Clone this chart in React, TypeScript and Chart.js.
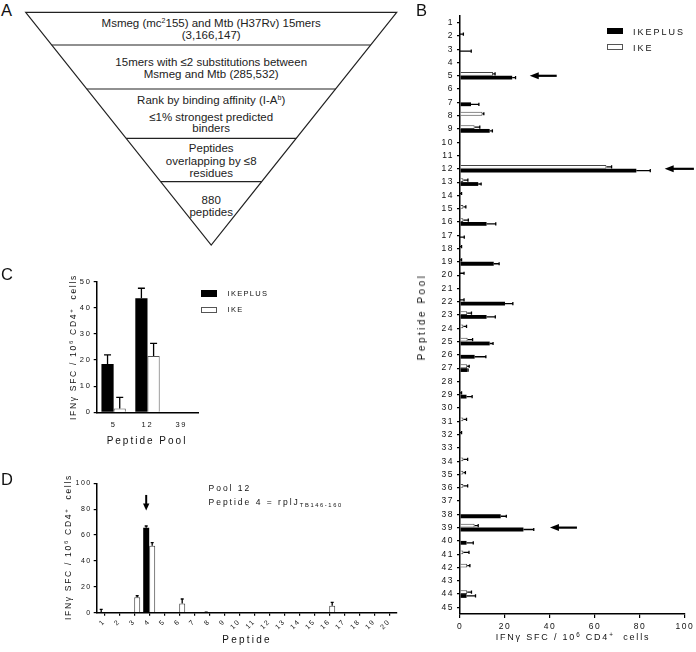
import React, { useEffect, useRef } from 'react';
import { Chart, registerables } from 'chart.js';
Chart.register(...registerables);

const FONT = '"Liberation Sans", Arial, Helvetica, sans-serif';

// ---------- Panel B data ----------
const poolLabelsB = ['1','2','3','4','5','6','7','8','9','10','11','12','13','14','15','16','17','18','19','20','21','22','23','24','25','26','27','28','29','30','31','32','33','34','35','36','37','38','39','40','41','42','43','44','45'];
const ikeplusB = [0,0,0,0,23.2,0,4.9,0,13.2,0,0,78.4,8.1,0,0,11.8,0,0,15,0,0,20,11.8,0,13.2,6.5,3.3,0,2.9,0,0,0,0,0,0,0,0,18.1,28.2,2.9,0,0,0,2.9,0];
const ikeplusBErr = [0,0,5,0,1.5,0,3.5,0,1.2,0,0,6.2,1.3,0,0,4.1,1.9,0,2.4,0,0,3.5,3.9,0,1.5,5,0.3,0,2.5,0,0,0,0,0,0,0,0,2.5,4.6,3,0,0,0,4,0];
const ikeB = [0,0,0,0,14.7,0,0,10,6.5,0,0,65.1,1.5,0,1.5,1.5,0,0,0,0,0,0,3.2,1.5,3.4,0,3.2,0,0,0,1.5,0,0,1.5,1.5,1.5,0,0,6.5,0,1.5,3.2,0,3.2,0];
const ikeBErr = [0,1.5,0,0,0.9,0,0,0.6,2.3,0,0,2.3,2,0.7,1.1,2.2,0,0.7,0.7,1.8,0,1.8,1.9,1.4,2.2,0,0.9,0,0.7,0,1.4,0.7,0,1.9,0.9,1.9,0,0,1.6,0,2.5,1.2,0,1.9,0];
const arrowPoolsB = ['5', '12', '39'];
const arrowTipB = [31, 91, 40];
const arrowTailB = [43, 104, 52];
const xTicksB = [0, 20, 40, 60, 80, 100];

// ---------- Panel C data ----------
const poolLabelsC = ['5', '12', '39'];
const ikeplusC = [18.5, 43.7, 0];
const ikeplusCErr = [3.5, 3.8, 0];
const ikeC = [1.5, 21.6, 0];
const ikeCErr = [4.2, 4.8, 0];

// ---------- Panel D data ----------
const peptideLabelsD = ['1','2','3','4','5','6','7','8','9','10','11','12','13','14','15','16','17','18','19','20'];
const ikeplusD = [0,0,0,65.7,0,0,0,0,0,0,0,0,0,0,0,0,0,0,0,0];
const ikeplusDErr = [2.5,0,0,1.3,0,0,0,0.5,0,0,0,0,0,0,0,0,0,0,0,0];
const ikeD = [0,0,11.9,51.8,0,7.2,0,0,0,0,0,0,0,0,0,5.4,0,0,0,0];
const ikeDErr = [0,0,1.2,2.3,0,3.4,0,0,0,0,0,0,0,0,0,2.6,0,0,0,0];
const arrowPeptideD = '4';
const arrowTopD = 91;
const arrowTipD = 79;

function drawArrow(ctx: CanvasRenderingContext2D, x0: number, y0: number, x1: number, y1: number, headLen: number, headHalf: number, width: number) {
  const dx = x1 - x0, dy = y1 - y0;
  const len = Math.hypot(dx, dy);
  const ux = dx / len, uy = dy / len;
  const bx = x1 - ux * headLen, by = y1 - uy * headLen;
  ctx.save();
  ctx.strokeStyle = '#000';
  ctx.fillStyle = '#000';
  ctx.lineWidth = width;
  ctx.beginPath();
  ctx.moveTo(x0, y0);
  ctx.lineTo(bx + ux, by + uy);
  ctx.stroke();
  ctx.beginPath();
  ctx.moveTo(x1, y1);
  ctx.lineTo(bx - uy * headHalf, by + ux * headHalf);
  ctx.lineTo(bx + uy * headHalf, by - ux * headHalf);
  ctx.closePath();
  ctx.fill();
  ctx.restore();
}

const extrasPlugin: any = {
  id: 'extras',
  beforeDraw(chart: any, _a: any, opts: any) {
    (chart.ctx as any).letterSpacing = (opts.spacing || 0) + 'px';
  },
  afterDatasetsDraw(chart: any, _a: any, opts: any) {
    const ctx = chart.ctx as CanvasRenderingContext2D;
    const horizontal = chart.options.indexAxis === 'y';
    const vScale = horizontal ? chart.scales.x : chart.scales.y;
    const cap = opts.cap || 1.5;
    ctx.save();
    ctx.strokeStyle = '#000';
    ctx.lineWidth = opts.errWidth || 1;
    chart.data.datasets.forEach((ds: any, di: number) => {
      const meta = chart.getDatasetMeta(di);
      (ds.errors || []).forEach((e: number, i: number) => {
        if (!e) return;
        const el: any = meta.data[i];
        const v = ds.data[i] as number;
        const p0 = vScale.getPixelForValue(v);
        const p1 = vScale.getPixelForValue(v + e);
        ctx.beginPath();
        if (horizontal) {
          const c = el.y;
          ctx.moveTo(p0, c); ctx.lineTo(p1, c);
          ctx.moveTo(p1, c - cap); ctx.lineTo(p1, c + cap);
        } else {
          const c = el.x;
          ctx.moveTo(c, p0); ctx.lineTo(c, p1);
          ctx.moveTo(c - cap, p1); ctx.lineTo(c + cap, p1);
        }
        ctx.stroke();
      });
    });
    ctx.restore();
  },
  afterDraw(chart: any, _a: any, opts: any) {
    const ctx = chart.ctx as CanvasRenderingContext2D;
    (opts.arrows || []).forEach((a: any) => {
      if (a.horizontal) {
        const y = chart.scales.y.getPixelForValue(a.index);
        drawArrow(ctx, chart.scales.x.getPixelForValue(a.from), y, chart.scales.x.getPixelForValue(a.to), y, 9, 3.5, 2.2);
      } else {
        const el: any = chart.getDatasetMeta(a.dataset).data[a.index];
        const x = el.x;
        drawArrow(ctx, x, chart.scales.y.getPixelForValue(a.from), x, chart.scales.y.getPixelForValue(a.to), 7, 3.2, 2);
      }
    });
  },
};

const axisBorder = { color: '#000', width: 1.5 };

function makeB(canvas: HTMLCanvasElement) {
  return new Chart(canvas, {
    type: 'bar',
    data: {
      labels: poolLabelsB,
      datasets: [
        { label: 'IKE', data: ikeB, errors: ikeBErr, backgroundColor: '#fff', borderColor: '#444', borderWidth: 1, borderSkipped: 'start', barThickness: 3.8, inflateAmount: 0 } as any,
        { label: 'IKEPLUS', data: ikeplusB, errors: ikeplusBErr, backgroundColor: '#000', borderWidth: 0, barThickness: 3.8, inflateAmount: 0 } as any,
      ],
    },
    options: {
      indexAxis: 'y',
      animation: false,
      responsive: false,
      devicePixelRatio: 1,
      layout: { padding: { top: 16, right: 10, left: 0, bottom: 0 } },
      plugins: {
        legend: { display: false },
        tooltip: { enabled: false },
        extras: {
          spacing: 1.5, cap: 1.6, errWidth: 1.3,
          arrows: arrowPoolsB.map((p, k) => ({ horizontal: true, index: poolLabelsB.indexOf(p), from: arrowTailB[k], to: arrowTipB[k] })),
        },
      } as any,
      scales: {
        x: {
          type: 'linear', min: 0, max: 100,
          afterBuildTicks: (s: any) => { s.ticks = xTicksB.map((v) => ({ value: v })); },
          ticks: { color: '#111', font: { family: FONT, size: 8.5 }, padding: 4 },
          grid: { drawOnChartArea: false, tickLength: 4, color: '#000', lineWidth: 1.2 },
          border: axisBorder,
          afterFit: (s: any) => { s.height = 38; },
        },
        y: {
          offset: true,
          ticks: { color: '#111', font: { family: FONT, size: 8.5 }, padding: 3, autoSkip: false },
          grid: { offset: false, drawOnChartArea: false, tickLength: 3, color: '#000', lineWidth: 1.2 },
          border: axisBorder,
          afterFit: (s: any) => { s.width = 60; },
        },
      },
    },
    plugins: [extrasPlugin],
  });
}

function makeC(canvas: HTMLCanvasElement) {
  return new Chart(canvas, {
    type: 'bar',
    data: {
      labels: poolLabelsC,
      datasets: [
        { label: 'IKEPLUS', data: ikeplusC, errors: ikeplusCErr, backgroundColor: '#000', borderWidth: 0, inflateAmount: 0 } as any,
        { label: 'IKE', data: ikeC, errors: ikeCErr, backgroundColor: '#fff', borderColor: '#555', borderWidth: 1, borderSkipped: 'start', inflateAmount: 0 } as any,
      ],
    },
    options: {
      animation: false,
      responsive: false,
      devicePixelRatio: 1,
      datasets: { bar: { categoryPercentage: 0.72, barPercentage: 1 } },
      layout: { padding: { top: 19.7, right: 11.7, left: 0, bottom: 0 } },
      plugins: {
        legend: { display: false },
        tooltip: { enabled: false },
        extras: { spacing: 1.8, cap: 3.5, errWidth: 1.3 },
      } as any,
      scales: {
        x: {
          offset: true,
          ticks: { color: '#111', font: { family: FONT, size: 7.5 }, padding: 8.5 },
          grid: { offset: false, drawOnChartArea: false, drawTicks: false, color: '#000' },
          border: axisBorder,
          afterFit: (s: any) => { s.height = 39.7; },
        },
        y: {
          min: 0, max: 50,
          ticks: { stepSize: 10, color: '#111', font: { family: FONT, size: 7.5 }, padding: 2 },
          grid: { drawOnChartArea: false, tickLength: 3, color: '#000', lineWidth: 1.2 },
          border: axisBorder,
          afterFit: (s: any) => { s.width = 96.7; },
        },
      },
    },
    plugins: [extrasPlugin],
  });
}

function makeD(canvas: HTMLCanvasElement) {
  return new Chart(canvas, {
    type: 'bar',
    data: {
      labels: peptideLabelsD,
      datasets: [
        { label: 'IKEPLUS', data: ikeplusD, errors: ikeplusDErr, backgroundColor: '#000', borderWidth: 0, inflateAmount: 0 } as any,
        { label: 'IKE', data: ikeD, errors: ikeDErr, backgroundColor: '#fff', borderColor: '#444', borderWidth: 1, borderSkipped: 'start', inflateAmount: 0 } as any,
      ],
    },
    options: {
      animation: false,
      responsive: false,
      devicePixelRatio: 1,
      datasets: { bar: { categoryPercentage: 0.8, barPercentage: 1 } },
      layout: { padding: { top: 13.3, right: 13.3, left: 0, bottom: 0 } },
      plugins: {
        legend: { display: false },
        tooltip: { enabled: false },
        extras: {
          spacing: 1.5, cap: 1.5, errWidth: 1.3,
          arrows: [{ horizontal: false, dataset: 0, index: peptideLabelsD.indexOf(arrowPeptideD), from: arrowTopD, to: arrowTipD }],
        },
      } as any,
      scales: {
        x: {
          offset: true,
          ticks: { color: '#111', font: { family: FONT, size: 7 }, padding: 2, autoSkip: false, minRotation: 45, maxRotation: 45 },
          grid: { offset: false, drawOnChartArea: false, tickLength: 3, color: '#000', lineWidth: 1.2 },
          border: axisBorder,
          afterFit: (s: any) => { s.height = 39.3; },
        },
        y: {
          min: 0, max: 100,
          ticks: { stepSize: 20, color: '#111', font: { family: FONT, size: 7 }, padding: 2 },
          grid: { drawOnChartArea: false, tickLength: 3, color: '#000', lineWidth: 1.2 },
          border: axisBorder,
          afterFit: (s: any) => { s.width = 96.7; },
        },
      },
    },
    plugins: [extrasPlugin],
  });
}

const Txt = ({ x, y, size, spacing = 0, anchor = 'left', children }: any) => {
  const tx = anchor === 'center' ? '-50%' : anchor === 'right' ? '-100%' : '0';
  return (
    <div style={{ position: 'absolute', left: x, top: y, transform: `translate(${tx}, -50%)`, fontFamily: FONT, fontSize: size, letterSpacing: spacing, lineHeight: 1, whiteSpace: 'nowrap', color: '#111' }}>
      {children}
    </div>
  );
};

const VTxt = ({ x, y, size, spacing = 0, children }: any) => (
  <div style={{ position: 'absolute', left: x, top: y, transform: 'translate(-50%, -50%) rotate(-90deg)', fontFamily: FONT, fontSize: size, letterSpacing: spacing, lineHeight: 1, whiteSpace: 'nowrap', color: '#111' }}>
    {children}
  </div>
);

const Sup = ({ children }: any) => (
  <span style={{ fontSize: '0.7em', position: 'relative', top: '-0.55em' }}>{children}</span>
);

const IfnTitle = () => (
  <span>IFN&gamma; SFC / 10<Sup>6</Sup> CD4<Sup>+</Sup>&nbsp; cells</span>
);

const Box = ({ x, y, w, h, fill }: any) => (
  <div style={{ position: 'absolute', left: x, top: y, width: w, height: h, boxSizing: 'border-box', background: fill, border: fill === '#000' ? 'none' : '1px solid #555' }} />
);

const Funnel = () => {
  const L = 25.7, R = 396.7, T = 12.3, AX = 211.2, AY = 245;
  const xl = (y: number) => L + (y - T) * (AX - L) / (AY - T);
  const xr = (y: number) => R - (y - T) * (R - AX) / (AY - T);
  const divs = [45, 89, 138.3, 181.7];
  const ts = { fontFamily: FONT, fontSize: 11.5, fill: '#222', textAnchor: 'middle' as const };
  return (
    <svg width={420} height={260} style={{ position: 'absolute', left: 0, top: 0 }}>
      <polygon points={`${L},${T} ${R},${T} ${AX},${AY}`} fill="none" stroke="#222" strokeWidth={1.2} />
      {divs.map((y) => (
        <line key={y} x1={xl(y)} y1={y} x2={xr(y)} y2={y} stroke="#222" strokeWidth={1.2} />
      ))}
      <text x={AX} y={27.3} {...ts}>Msmeg (mc<tspan fontSize={7} dy={-4}>2</tspan><tspan dy={4}>155) and Mtb (H37Rv) 15mers</tspan></text>
      <text x={AX} y={39} {...ts}>(3,166,147)</text>
      <text x={AX} y={66.3} {...ts}>15mers with ≤2 substitutions between</text>
      <text x={AX} y={78} {...ts}>Msmeg and Mtb (285,532)</text>
      <text x={AX} y={104} {...ts}>Rank by binding affinity (I-A<tspan fontSize={7} dy={-4}>b</tspan><tspan dy={4}>)</tspan></text>
      <text x={AX} y={120.7} {...ts}>≤1% strongest predicted</text>
      <text x={AX} y={132.3} {...ts}>binders</text>
      <text x={AX} y={152.3} {...ts}>Peptides</text>
      <text x={AX} y={165} {...ts}>overlapping by ≤8</text>
      <text x={AX} y={176.7} {...ts}>residues</text>
      <text x={AX} y={204} {...ts}>880</text>
      <text x={AX} y={215.7} {...ts}>peptides</text>
    </svg>
  );
};

export default function App() {
  const refB = useRef<HTMLCanvasElement>(null);
  const refC = useRef<HTMLCanvasElement>(null);
  const refD = useRef<HTMLCanvasElement>(null);

  useEffect(() => {
    const b = makeB(refB.current!);
    const c = makeC(refC.current!);
    const d = makeD(refD.current!);
    return () => { b.destroy(); c.destroy(); d.destroy(); };
  }, []);

  const cv = (left: number, top: number, w: number, h: number) => ({ position: 'absolute' as const, left, top, width: w, height: h });

  return (
    <div style={{ position: 'absolute', left: 0, top: 0, width: 696, height: 652, background: '#fff', overflow: 'hidden' }}>
      <Funnel />
      <canvas ref={refB} width={296} height={652} style={cv(400, 0, 296, 652)} />
      <canvas ref={refC} width={210} height={190} style={cv(0, 262, 210, 190)} />
      <canvas ref={refD} width={410} height={182} style={cv(0, 470, 410, 182)} />

      {/* panel letters */}
      <Txt x={1} y={9.5} size={16.5}>A</Txt>
      <Txt x={416} y={9.5} size={16.5}>B</Txt>
      <Txt x={1} y={274} size={16.5}>C</Txt>
      <Txt x={1} y={479} size={16.5}>D</Txt>

      {/* panel B legend and titles */}
      <Box x={607} y={28} w={16} h={6} fill="#000" />
      <Txt x={633} y={31.5} size={9} spacing={2}>IKEPLUS</Txt>
      <Box x={607} y={44} w={16} h={6} fill="#fff" />
      <Txt x={633} y={47.5} size={9} spacing={2}>IKE</Txt>
      <VTxt x={422} y={317} size={10} spacing={2.5}>Peptide Pool</VTxt>
      <Txt x={573} y={637} size={9} spacing={1.8} anchor="center"><IfnTitle /></Txt>

      {/* panel C legend and titles */}
      <Box x={201} y={290} w={16} h={7} fill="#000" />
      <Txt x={227.5} y={293.5} size={7.5} spacing={1.3}>IKEPLUS</Txt>
      <Box x={201} y={306.5} w={16} h={6} fill="#fff" />
      <Txt x={227.5} y={309.5} size={7.5} spacing={1.3}>IKE</Txt>
      <VTxt x={73} y={347} size={8.5} spacing={1.7}><IfnTitle /></VTxt>
      <Txt x={147} y={441} size={10} spacing={2} anchor="center">Peptide Pool</Txt>

      {/* panel D annotation and titles */}
      <Txt x={208.5} y={488} size={8.5} spacing={2}>Pool 12</Txt>
      <Txt x={208.5} y={502} size={8.5} spacing={2}>Peptide 4 = rplJ<span style={{ fontSize: '0.68em', position: 'relative', top: '0.35em', letterSpacing: 1.6 }}>TB146-160</span></Txt>
      <VTxt x={67.5} y={547} size={8.5} spacing={1.7}><IfnTitle /></VTxt>
      <Txt x={247} y={640} size={10} spacing={2.2} anchor="center">Peptide</Txt>
    </div>
  );
}
